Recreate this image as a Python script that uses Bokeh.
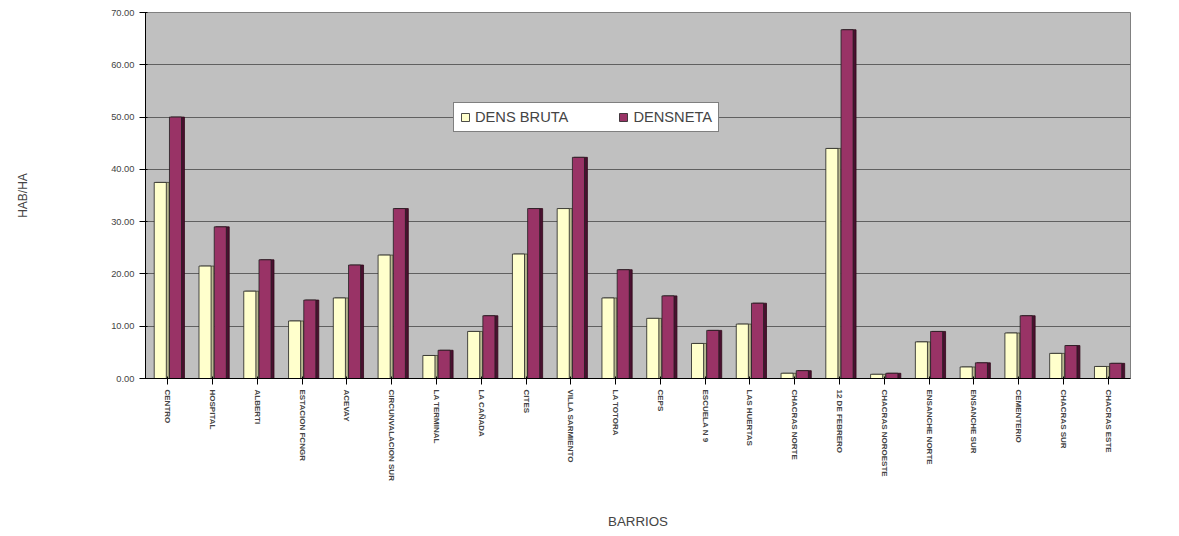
from bokeh.plotting import figure
from bokeh.models import ColumnDataSource, FactorRange, NumeralTickFormatter, Legend, LegendItem, FixedTicker
from bokeh.transform import dodge
from bokeh.embed import file_html
from bokeh.resources import INLINE

barrios = ["CENTRO", "HOSPITAL", "ALBERTI", "ESTACION FCNGR", "ACEVAY",
           "CIRCUNVALACION SUR", "LA TERMINAL", "LA CAÑADA", "CITES",
           "VILLA SARMIENTO", "LA TOTORA", "CEPS", "ESCUELA N 9",
           "LAS HUERTAS", "CHACRAS NORTE", "12 DE FEBRERO",
           "CHACRAS NOROESTE", "ENSANCHE NORTE", "ENSANCHE SUR",
           "CEMENTERIO", "CHACRAS SUR", "CHACRAS ESTE"]
dens_bruta = [37.5, 21.5, 16.7, 11.0, 15.4, 23.6, 4.4, 9.0, 23.8, 32.5, 15.4,
              11.5, 6.7, 10.4, 1.0, 44.0, 0.8, 7.0, 2.2, 8.7, 4.8, 2.3]
dens_neta = [50.0, 29.0, 22.7, 15.0, 21.7, 32.5, 5.4, 12.0, 32.5, 42.3, 20.8,
             15.8, 9.2, 14.4, 1.5, 66.7, 1.0, 9.0, 3.0, 12.0, 6.3, 2.9]
y_ticks = [0, 10, 20, 30, 40, 50, 60, 70]

src = ColumnDataSource(dict(x=barrios, bruta=dens_bruta, neta=dens_neta))

p = figure(frame_width=985, frame_height=366, x_range=FactorRange(*barrios), y_range=(0, 70),
           output_backend="svg", toolbar_location=None,
           min_border_left=145, min_border_right=30, min_border_top=12, min_border_bottom=150)

p.background_fill_color = "#C0C0C0"
p.border_fill_color = "white"
p.outline_line_color = "#808080"

# 3D side faces
p.vbar(x=dodge("x", -0.12, range=p.x_range), top="bruta", width=0.3, source=src,
       fill_color="#B8B890", line_color="#404030", line_width=0.8)
p.vbar(x=dodge("x", 0.22, range=p.x_range), top="neta", width=0.3, source=src,
       fill_color="#4A1030", line_color="#300818", line_width=0.8)
# front faces
r1 = p.vbar(x=dodge("x", -0.17, range=p.x_range), top="bruta", width=0.27, source=src,
            fill_color="#FFFFCC", line_color="#202020", line_width=0.8)
r2 = p.vbar(x=dodge("x", 0.17, range=p.x_range), top="neta", width=0.27, source=src,
            fill_color="#993366", line_color="#202020", line_width=0.8)

p.yaxis.ticker = FixedTicker(ticks=y_ticks)
p.yaxis.formatter = NumeralTickFormatter(format="0.00")
p.yaxis.major_label_text_font = "Liberation Sans"
p.yaxis.major_label_text_font_size = "7pt"
p.yaxis.axis_label = "HAB/HA"
p.yaxis.axis_label_text_font = "Liberation Sans"
p.yaxis.axis_label_text_font_style = "normal"
p.yaxis.axis_label_text_font_size = "9pt"
p.yaxis.axis_label_standoff = 78

p.xaxis.major_label_orientation = "vertical"
p.xaxis.major_label_text_font = "Liberation Sans"
p.xaxis.major_label_text_font_style = "bold"
p.xaxis.major_label_text_font_size = "6pt"
p.xaxis.axis_label = "BARRIOS"
p.xaxis.axis_label_text_font = "Liberation Sans"
p.xaxis.axis_label_text_font_style = "normal"
p.xaxis.axis_label_text_font_size = "10pt"
p.xaxis.axis_label_standoff = 30

p.xgrid.grid_line_color = None
p.ygrid.grid_line_color = "#606060"
p.ygrid.grid_line_width = 1

legend = Legend(items=[LegendItem(label="DENS BRUTA", renderers=[r1]),
                       LegendItem(label="DENSNETA", renderers=[r2])],
                orientation="horizontal", location=(308, 246),
                background_fill_color="white", background_fill_alpha=1,
                border_line_color="black", label_text_font="Liberation Sans",
                label_text_font_size="11pt", glyph_width=10, glyph_height=10,
                padding=6, spacing=50, margin=0)
p.add_layout(legend, "center")

open("out.html", "w").write(file_html(p, INLINE))
